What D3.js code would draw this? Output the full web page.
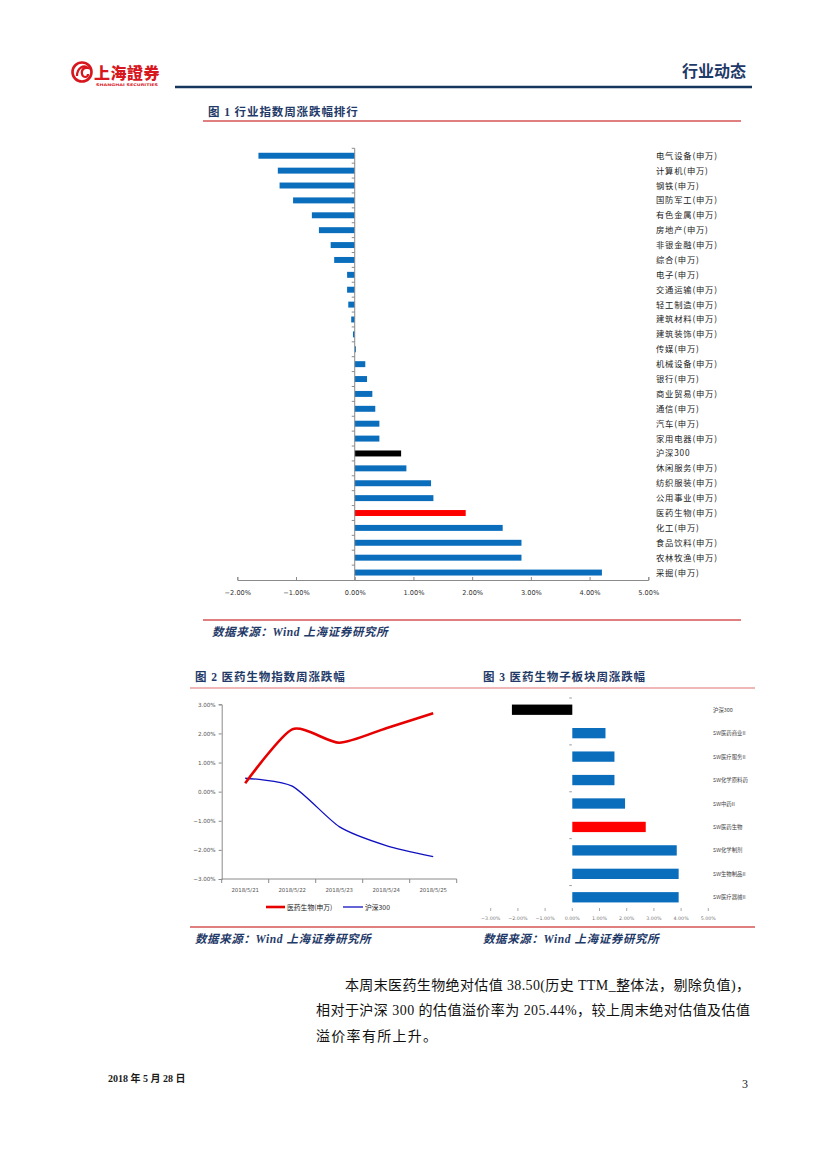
<!DOCTYPE html>
<html><head><meta charset="utf-8">
<script src="https://cdn.jsdelivr.net/npm/d3@7"></script>
<style>
body{margin:0;background:#fff;}
svg{display:block;}
</style></head>
<body>
<svg id="page" width="827" height="1169"></svg>
<script>
// ---------- DATA ----------
const fig1Categories = ["电气设备(申万)","计算机(申万)","钢铁(申万)","国防军工(申万)","有色金属(申万)","房地产(申万)","非银金融(申万)","综合(申万)","电子(申万)","交通运输(申万)","轻工制造(申万)","建筑材料(申万)","建筑装饰(申万)","传媒(申万)","机械设备(申万)","银行(申万)","商业贸易(申万)","通信(申万)","汽车(申万)","家用电器(申万)","沪深300","休闲服务(申万)","纺织服装(申万)","公用事业(申万)","医药生物(申万)","化工(申万)","食品饮料(申万)","农林牧渔(申万)","采掘(申万)"];
const fig1Values = [-1.64,-1.31,-1.28,-1.05,-0.73,-0.61,-0.41,-0.35,-0.13,-0.13,-0.11,-0.06,-0.03,0.02,0.18,0.21,0.30,0.35,0.42,0.42,0.79,0.88,1.30,1.34,1.89,2.52,2.84,2.84,4.21];
const fig1Ticks = [-2,-1,0,1,2,3,4,5];

const fig2Dates = ["2018/5/21","2018/5/22","2018/5/23","2018/5/24","2018/5/25"];
const fig2Pharma = [0.29,2.14,1.68,2.18,2.69];
const fig2HS300 = [0.46,0.19,-1.20,-1.85,-2.23];
const fig2Ticks = [3,2,1,0,-1,-2,-3];
const fig2SeriesNames = ["医药生物(申万)","沪深300"];

const fig3Categories = ["沪深300","SW医药商业II","SW医疗服务II","SW化学原料药","SW中药II","SW医药生物","SW化学制剂","SW生物制品II","SW医疗器械II"];
const fig3Values = [-2.22,1.22,1.55,1.55,1.94,2.70,3.84,3.91,3.91];
const fig3Ticks = [-3,-2,-1,0,1,2,3,4,5];

// ---------- STYLE ----------
const BLUE = "#0a6ebd", RED = "#ff0000", BLACK = "#000000";
const NAVY = "#1f3a68";
const SERIF = "'Liberation Serif','Noto Sans CJK SC',serif";
const SANS = "'Noto Sans CJK SC','DejaVu Sans',sans-serif";
const pct = d => d3.format(".2f")(d) + "%";
const colorFor = c => c === "沪深300" ? BLACK : (c.indexOf("医药生物") >= 0 ? RED : BLUE);

const svg = d3.select("#page");

// ---------- HEADER ----------
const logo = svg.append("g");
logo.append("circle").attr("cx",82).attr("cy",72).attr("r",9.5).attr("fill","none").attr("stroke","#d7161e").attr("stroke-width",2.6);
logo.append("path").attr("d","M77,76 C77,68 84,64 88,68 C84,67 81,70 82,74 C83,78 88,78 88,74").attr("fill","none").attr("stroke","#d7161e").attr("stroke-width",2.2);
logo.append("text").attr("x",94).attr("y",79).attr("font-family",SANS).attr("font-weight","900").attr("font-size",16).attr("fill","#d7161e").attr("letter-spacing",0.5).text("上海證券");
logo.append("text").attr("x",96).attr("y",86).attr("font-family","'DejaVu Sans'").attr("font-weight","bold").attr("font-size",3.6).attr("fill","#d7161e").attr("textLength",62).attr("lengthAdjust","spacingAndGlyphs").text("SHANGHAI SECURITIES");

svg.append("text").attr("x",746).attr("y",77).attr("text-anchor","end").attr("font-family",SANS).attr("font-weight","bold").attr("font-size",16).attr("fill",NAVY).text("行业动态");
svg.append("line").attr("x1",175).attr("x2",752).attr("y1",87).attr("y2",87).attr("stroke","#17365d").attr("stroke-width",2.4);

// helper texts
function title(x,y,t){
  svg.append("text").attr("x",x).attr("y",y).attr("font-family",SERIF).attr("font-weight","bold").attr("font-size",11.5).attr("letter-spacing",0.9).attr("fill",NAVY).text(t);
}
function source(x,y,t){
  svg.append("text").attr("x",x).attr("y",y).attr("font-family",SERIF).attr("font-style","italic").attr("font-weight","bold").attr("font-size",11.5).attr("letter-spacing",0.6).attr("fill",NAVY).text(t);
}
function rule(x1,x2,y,c){
  svg.append("line").attr("x1",x1).attr("x2",x2).attr("y1",y).attr("y2",y).attr("stroke",c).attr("stroke-width",1.1);
}

// ---------- FIGURE 1 ----------
title(208,116,"图 1 行业指数周涨跌幅排行");
rule(203,741,121,"#c00000");
rule(203,741,620,"#c00000");
source(212,636,"数据来源：Wind  上海证券研究所");

const f1 = svg.append("g");
const x1 = d3.scaleLinear().domain([-2,5]).range([237.3,648.3]);
const y1 = d3.scaleBand().domain(fig1Categories).range([148.3,580]).paddingInner(0.6).paddingOuter(0.3);
const y1step = y1.step();
const f1data = fig1Categories.map((c,i)=>({c,v:fig1Values[i]}));
f1.selectAll("rect.bar").data(f1data).join("rect")
  .attr("x",d=>x1(Math.min(0,d.v))).attr("width",d=>Math.abs(x1(d.v)-x1(0)))
  .attr("y",d=>y1(d.c)).attr("height",y1.bandwidth()).attr("fill",d=>colorFor(d.c));
// vertical axis at zero with category ticks
const y1range = y1.range();
f1.append("line").attr("x1",x1(0)).attr("x2",x1(0)).attr("y1",y1range[0]).attr("y2",y1range[1]).attr("stroke","#8a8a8a").attr("stroke-width",1);
f1.selectAll("line.ct").data(d3.range(fig1Categories.length)).join("line")
  .attr("x1",x1(0)-3).attr("x2",x1(0)).attr("y1",i=>y1range[0]+i*(y1range[1]-y1range[0])/fig1Categories.length)
  .attr("y2",i=>y1range[0]+i*(y1range[1]-y1range[0])/fig1Categories.length).attr("stroke","#8a8a8a");
// labels on right
f1.selectAll("text.lab").data(f1data).join("text")
  .attr("x",656).attr("y",d=>y1(d.c)+y1.bandwidth()/2+3)
  .attr("font-family",SANS).attr("font-size",8.3).attr("letter-spacing",0.8).attr("fill","#222").text(d=>d.c);
// bottom axis
const ax1 = f1.append("g").attr("transform","translate(0,580)")
  .call(d3.axisBottom(x1).tickValues(fig1Ticks).tickSize(-3).tickFormat(pct));
ax1.select(".domain").attr("stroke","#8a8a8a");
ax1.selectAll(".tick line").attr("stroke","#8a8a8a");
ax1.selectAll(".tick text").attr("y",10).attr("font-family","'DejaVu Sans'").attr("font-size",6.6).attr("fill","#333");

// ---------- FIGURE 2 ----------
title(195,681,"图 2 医药生物指数周涨跌幅");
title(483,681,"图 3 医药生物子板块周涨跌幅");
svg.append("line").attr("x1",190).attr("x2",755).attr("y1",688).attr("y2",688).attr("stroke","#e07070").attr("stroke-width",1.2);
rule(190,755,927,"#c00000");
source(195,943,"数据来源：Wind 上海证券研究所");
source(483,943,"数据来源：Wind 上海证券研究所");

const f2 = svg.append("g");
const x2 = d3.scaleBand().domain(fig2Dates).range([221.7,456.7]);
const y2 = d3.scaleLinear().domain([-3,3]).range([879,704.3]);
const ay2 = f2.append("g").attr("transform","translate(221.7,0)")
  .call(d3.axisLeft(y2).tickValues(fig2Ticks).tickSize(3).tickFormat(pct));
ay2.select(".domain").attr("stroke","#8a8a8a");
ay2.selectAll(".tick line").attr("stroke","#8a8a8a");
ay2.selectAll(".tick text").attr("x",-6).attr("font-family","'DejaVu Sans'").attr("font-size",5.6).attr("fill","#555");
// x axis
f2.append("line").attr("x1",221.7).attr("x2",456.7).attr("y1",879).attr("y2",879).attr("stroke","#8a8a8a");
f2.selectAll("line.xt").data(d3.range(fig2Dates.length+1)).join("line")
  .attr("x1",i=>221.7+i*x2.step()).attr("x2",i=>221.7+i*x2.step()).attr("y1",879).attr("y2",883).attr("stroke","#8a8a8a");
f2.selectAll("text.xl").data(fig2Dates).join("text")
  .attr("x",d=>x2(d)+x2.bandwidth()/2).attr("y",892).attr("text-anchor","middle")
  .attr("font-family","'DejaVu Sans'").attr("font-size",5.4).attr("fill","#555").text(d=>d);
const line2 = d3.line().x((d,i)=>x2(fig2Dates[i])+x2.bandwidth()/2).y(d=>y2(d)).curve(d3.curveCardinal.tension(0.3));
f2.append("path").attr("d",line2(fig2HS300)).attr("fill","none").attr("stroke","#1010c0").attr("stroke-width",1.3);
f2.append("path").attr("d",line2(fig2Pharma)).attr("fill","none").attr("stroke","#e60000").attr("stroke-width",2.6);
// legend
f2.append("line").attr("x1",266).attr("x2",285).attr("y1",907).attr("y2",907).attr("stroke","#e60000").attr("stroke-width",2.6);
f2.append("text").attr("x",287).attr("y",909.5).attr("font-family",SANS).attr("font-size",6.8).attr("fill","#222").text(fig2SeriesNames[0]);
f2.append("line").attr("x1",343).attr("x2",363).attr("y1",907).attr("y2",907).attr("stroke","#1010c0").attr("stroke-width",1.3);
f2.append("text").attr("x",365).attr("y",909.5).attr("font-family",SANS).attr("font-size",6.8).attr("fill","#222").text(fig2SeriesNames[1]);

// ---------- FIGURE 3 ----------
const f3 = svg.append("g");
const x3 = d3.scaleLinear().domain([-3,5]).range([490.7,708.3]);
const y3 = d3.scaleBand().domain(fig3Categories).range([698,909]).paddingInner(0.56).paddingOuter(0.28);
const f3data = fig3Categories.map((c,i)=>({c,v:fig3Values[i]}));
f3.selectAll("rect").data(f3data).join("rect")
  .attr("x",d=>x3(Math.min(0,d.v))).attr("width",d=>Math.abs(x3(d.v)-x3(0)))
  .attr("y",d=>y3(d.c)).attr("height",y3.bandwidth()).attr("fill",d=>colorFor(d.c));
f3.selectAll("line.ct").data([0,2,4,6,8]).join("line")
  .attr("x1",x3(0)-3).attr("x2",x3(0)-0.5).attr("y1",i=>698+i*(211/9)).attr("y2",i=>698+i*(211/9)).attr("stroke","#999");
f3.selectAll("text.lab").data(f3data).join("text")
  .attr("x",713).attr("y",d=>y3(d.c)+y3.bandwidth()/2+2).attr("font-family",SANS).attr("font-size",5.4).attr("fill","#444").text(d=>d.c);
f3.selectAll("line.xt").data(fig3Ticks).join("line")
  .attr("x1",d=>x3(d)).attr("x2",d=>x3(d)).attr("y1",908).attr("y2",911).attr("stroke","#aaa");
f3.selectAll("text.xl").data(fig3Ticks).join("text")
  .attr("x",d=>x3(d)).attr("y",920).attr("text-anchor","middle").attr("font-family","'DejaVu Sans'").attr("font-size",4.8).attr("fill","#777").text(pct);

// ---------- BODY TEXT ----------
const BODY = "'Liberation Serif','Noto Sans CJK SC',serif";
svg.append("text").attr("x",345).attr("y",990).attr("font-family",BODY).attr("font-size",14).attr("fill","#111")
  .attr("textLength",405).attr("lengthAdjust","spacing").text("本周末医药生物绝对估值 38.50(历史 TTM_整体法，剔除负值)，");
svg.append("text").attr("x",316).attr("y",1015).attr("font-family",BODY).attr("font-size",14).attr("fill","#111")
  .attr("textLength",434).attr("lengthAdjust","spacing").text("相对于沪深 300 的估值溢价率为 205.44%，较上周末绝对估值及估值");
svg.append("text").attr("x",316).attr("y",1041).attr("font-family",BODY).attr("font-size",14).attr("fill","#111")
  .attr("letter-spacing",1.3).text("溢价率有所上升。");

// ---------- FOOTER ----------
svg.append("text").attr("x",108).attr("y",1082).attr("font-family",SERIF).attr("font-weight","bold").attr("font-size",10).attr("fill","#1a1a1a").text("2018 年 5 月 28 日");
svg.append("text").attr("x",748).attr("y",1088).attr("text-anchor","end").attr("font-family",SERIF).attr("font-size",12).attr("fill","#222").text("3");
</script>
</body></html>
